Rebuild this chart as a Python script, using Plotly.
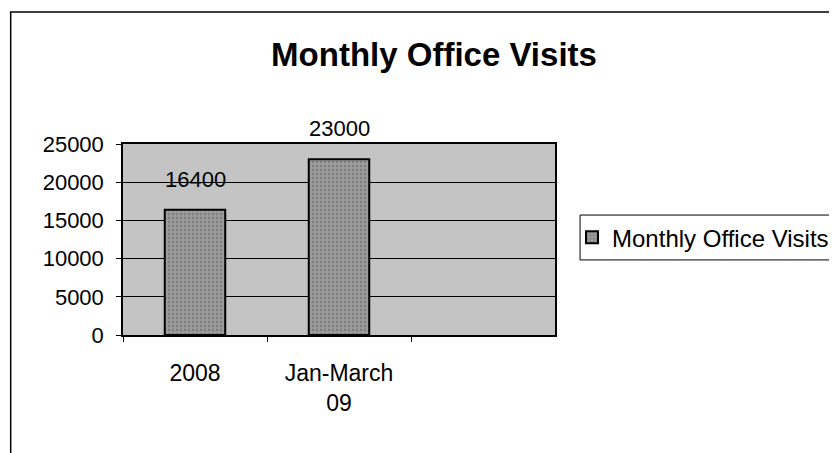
"""Monthly office visits bar chart (Excel-style)."""

import plotly.graph_objects as go

categories = ["2008", "Jan-March<br>09"]
visits = [16400, 23000]
label_text = ["16400", "23000"]
series_name = "Monthly Office Visits"
y_ticks = [0, 5000, 10000, 15000, 20000, 25000]
y_tick_text = ["0", "5000", "10000", "15000", "20000", "25000"]

FONT = "Liberation Sans, Arial, sans-serif"

fig = go.Figure()

fig.add_trace(go.Bar(
    x=categories,
    y=visits,
    name=series_name,
    width=0.42,
    marker=dict(
        color="#8f8f8f",
        line=dict(color="black", width=2),
        pattern=dict(shape=".", fgcolor="#5e5e5e", bgcolor="#9c9c9c", size=4, solidity=0.3),
    ),
    showlegend=True,
))

# data labels above the bars (x given as category index)
for i, (val, txt) in enumerate(zip(visits, label_text)):
    fig.add_annotation(
        x=i, y=val, text=txt, showarrow=False,
        yanchor="bottom", yshift=16,
        font=dict(family=FONT, size=22, color="black"),
    )

# outer chart border
fig.add_shape(
    type="rect", xref="paper", yref="paper",
    x0=-0.26, x1=2.0, y0=-1.0, y1=1.691,
    line=dict(color="black", width=1.5), layer="below",
)

# legend frame
fig.add_shape(
    type="rect", xref="paper", yref="paper",
    x0=1.058, x1=1.8, y0=0.393, y1=0.628,
    line=dict(color="black", width=1), fillcolor="white", layer="below",
)

fig.update_layout(
    width=837,
    height=453,
    margin=dict(l=115, r=289, t=136, b=126),
    paper_bgcolor="white",
    plot_bgcolor="#c4c4c4",
    title=dict(
        text="<b>Monthly Office Visits</b>",
        x=426 / 837, xanchor="center",
        y=1 - 46 / 453, yanchor="middle",
        font=dict(family=FONT, size=33, color="black"),
    ),
    font=dict(family=FONT, size=22, color="black"),
    legend=dict(
        x=1.037, xanchor="left", y=0.628, yanchor="top",
        borderwidth=0, bgcolor="rgba(0,0,0,0)",
        font=dict(family=FONT, size=24, color="black"),
        itemwidth=30,
    ),
    xaxis=dict(
        type="category",
        range=[-0.5, 2.5],
        showline=True, linecolor="black", linewidth=1.5, mirror=True,
        ticks="outside", tickson="boundaries", ticklen=5, tickcolor="black",
        showgrid=False,
        ticklabelstandoff=17,
        tickfont=dict(family=FONT, size=23),
    ),
    yaxis=dict(
        range=[0, 25000],
        tickvals=y_ticks,
        ticktext=y_tick_text,
        showline=True, linecolor="black", linewidth=1.5, mirror=True,
        ticks="outside", ticklen=5, tickcolor="black",
        showgrid=True, gridcolor="black", gridwidth=1,
        zeroline=False,
        ticklabelstandoff=8,
        tickfont=dict(family=FONT, size=22),
    ),
)

fig.write_html("out.html")
